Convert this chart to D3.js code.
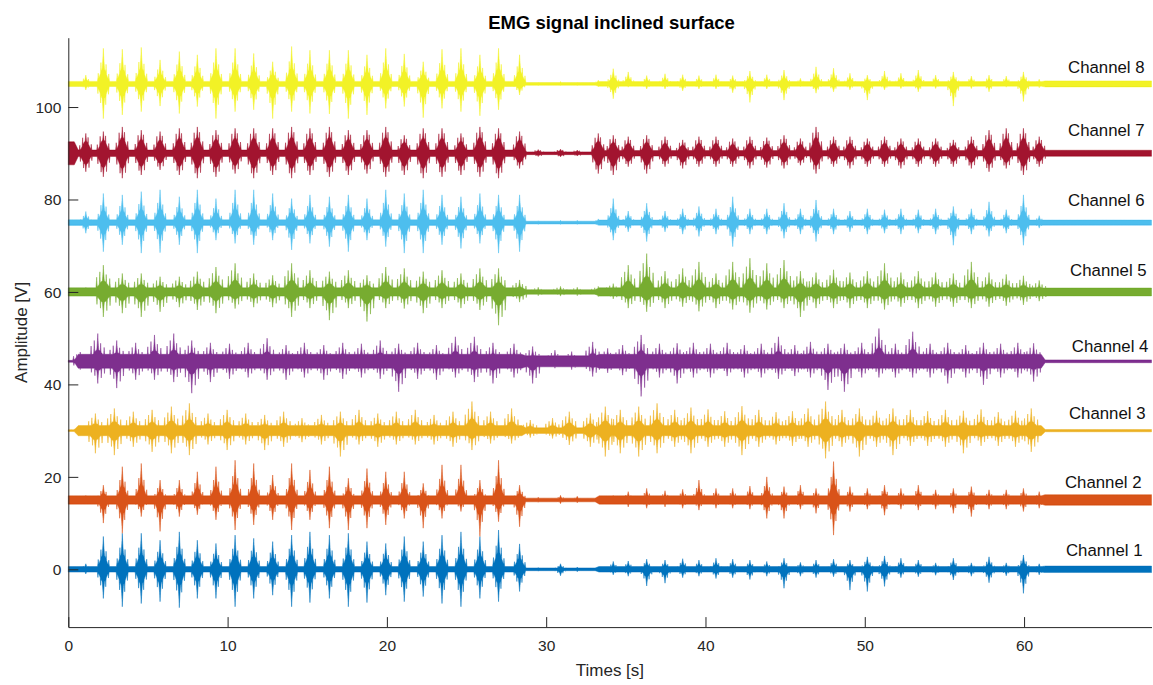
<!DOCTYPE html>
<html>
<head>
<meta charset="utf-8">
<script src="https://cdn.jsdelivr.net/npm/d3@7"></script>
<style>
  html, body { margin: 0; padding: 0; background: #fff; }
  svg { display: block; font-family: "Liberation Sans", Arial, Helvetica, sans-serif; }
</style>
</head>
<body>
<script>
// ---- Data -----------------------------------------------------------------
// Step (burst) instants in seconds: stance phase 1, transition, stance phase 2
const stepTimes = [1.1, 2.2, 3.39, 4.58, 5.76, 6.97, 8.10, 9.27, 10.47, 11.64, 12.83, 14.02,
  15.17, 16.39, 17.58, 18.75, 19.93, 21.09, 22.28, 23.46, 24.65, 25.84, 27.01, 28.33,
  29.5, 30.9, 31.95,
  33.27, 34.21, 35.15, 36.31, 37.46, 38.57, 39.59, 40.66, 41.71, 42.79, 43.85, 44.93,
  45.96, 46.94, 48.04, 49.07, 50.16, 51.24, 52.27, 53.36, 54.45, 55.56, 56.69, 57.8,
  58.88, 59.96, 60.95];

const channelNames = ["Channel 1", "Channel 2", "Channel 3", "Channel 4",
                      "Channel 5", "Channel 6", "Channel 7", "Channel 8"];
const channelOffsets = [0, 15, 30, 45, 60, 75, 90, 105];
// timing lag of each channel's bursts relative to stepTimes (s)
const channelLag = [0, 0, -0.5, -0.35, 0, 0, 0, 0];

// Burst peak amplitudes above (Up) and below (Down) each channel's offset [V]
const ch1Up = [1.2, 7.1, 7.8, 7.8, 6.3, 8.1, 6.3, 5.6, 7.4, 6.7, 6.0, 7.4, 8.1, 7.4, 7.8, 6.0, 5.6, 7.1, 6.0, 7.4, 8.1, 7.1, 8.5, 5.5,
  0.4, 1.2, 0.5,
  0.6, 1.7, 1.8, 2.2, 2.0, 2.3, 2.0, 2.4, 2.2, 2.0, 1.7, 2.4, 1.5, 2.0, 2.2, 2.0, 2.7, 2.9, 2.4, 2.0, 1.4, 2.4, 1.4, 2.7, 1.4, 3.1, 1.2];
const ch1Down = [1.0, 6.3, 8.1, 7.4, 7.0, 8.3, 6.3, 6.3, 8.1, 6.3, 5.6, 8.1, 7.2, 6.3, 8.1, 7.2, 5.6, 7.0, 5.9, 7.4, 8.1, 6.3, 7.0, 4.8,
  0.4, 1.4, 0.5,
  0.5, 1.2, 1.5, 3.6, 3.0, 1.8, 1.5, 2.0, 1.8, 2.2, 1.5, 4.1, 1.5, 1.8, 1.6, 4.5, 4.8, 3.7, 1.8, 1.6, 1.3, 2.3, 1.5, 2.9, 1.4, 5.2, 1.2];

const ch2Up = [1.0, 3.2, 7.2, 7.9, 4.3, 4.3, 6.1, 7.2, 8.6, 7.9, 5.4, 7.9, 6.5, 7.2, 4.7, 6.8, 6.1, 6.1, 3.6, 7.6, 7.6, 4.3, 8.6, 3.2,
  0.6, 1.0, 0.8,
  0.8, 1.0, 1.8, 2.5, 2.0, 2.3, 4.3, 2.5, 2.5, 3.0, 5.0, 2.9, 3.2, 2.5, 8.3, 2.9, 2.5, 3.2, 2.5, 3.2, 2.2, 2.5, 2.9, 2.2, 2.2, 2.5, 1.8];
const ch2Down = [0.8, 5.0, 7.2, 3.6, 6.8, 3.6, 3.2, 4.3, 6.5, 5.4, 4.3, 6.5, 4.3, 6.1, 6.5, 6.1, 5.4, 4.0, 6.1, 4.0, 2.5, 7.9, 4.7, 5.8,
  0.5, 0.8, 0.6,
  0.7, 0.8, 1.5, 1.8, 1.5, 1.8, 2.2, 1.8, 1.8, 2.0, 4.0, 4.0, 2.0, 2.9, 7.6, 2.5, 2.0, 3.3, 2.0, 2.2, 2.0, 2.9, 3.6, 2.0, 2.0, 2.5, 1.8];

const ch3Up = [0.5, 3.7, 4.8, 4.1, 4.5, 5.2, 5.9, 3.7, 4.5, 3.7, 3.4, 4.1, 2.7, 3.4, 4.1, 4.5, 3.7, 4.1, 4.5, 3.4, 4.1, 6.3, 4.1, 4.8,
  2.3, 2.7, 4.1,
  3.7, 5.2, 4.5, 5.2, 5.9, 4.5, 5.0, 4.6, 4.2, 5.3, 4.5, 4.0, 4.2, 4.8, 6.3, 4.5, 4.8, 4.3, 4.8, 4.5, 4.2, 4.5, 4.3, 4.6, 4.0, 4.3, 4.8];
const ch3Down = [0.4, 4.9, 5.3, 3.5, 4.6, 4.9, 5.3, 3.0, 4.2, 3.0, 4.2, 3.5, 2.5, 3.0, 5.6, 3.0, 3.5, 3.0, 3.0, 3.0, 3.5, 4.2, 2.8, 2.8,
  1.5, 1.7, 3.1,
  3.5, 5.6, 4.9, 5.6, 4.9, 3.5, 4.9, 3.5, 3.5, 5.3, 3.5, 3.0, 3.3, 3.5, 6.0, 3.5, 5.6, 3.5, 5.3, 3.3, 3.3, 3.5, 4.9, 3.3, 3.3, 3.5, 4.6];

const ch4Up = [2.0, 6.0, 4.5, 4.0, 5.7, 6.0, 4.5, 4.0, 3.8, 4.0, 5.0, 3.5, 4.0, 3.5, 4.0, 3.8, 4.5, 3.8, 4.0, 3.5, 5.3, 5.3, 4.0, 3.8,
  3.2, 2.4, 2.1,
  4.2, 2.8, 3.5, 5.7, 3.8, 3.9, 4.0, 3.8, 4.0, 3.5, 3.8, 5.3, 3.5, 4.2, 3.8, 3.8, 4.0, 7.1, 3.8, 6.4, 3.8, 4.0, 3.5, 4.0, 3.8, 4.0, 3.9];
const ch4Down = [1.8, 4.8, 5.8, 4.0, 4.0, 4.5, 6.9, 4.5, 3.8, 3.5, 4.0, 4.0, 3.5, 4.0, 3.8, 3.5, 3.8, 6.6, 3.8, 4.0, 3.5, 4.5, 4.8, 3.5,
  4.8, 1.5, 1.8,
  3.3, 2.5, 3.0, 7.6, 3.5, 4.8, 3.5, 3.5, 3.2, 3.5, 3.5, 3.8, 3.2, 3.5, 6.2, 6.6, 3.5, 3.5, 3.5, 3.5, 3.5, 4.8, 3.5, 5.1, 3.5, 3.5, 4.4];

const ch5Up = [1.0, 5.8, 4.0, 4.0, 3.3, 3.3, 4.4, 5.4, 6.2, 4.0, 3.6, 6.2, 4.7, 4.4, 4.7, 3.6, 5.4, 5.1, 4.4, 4.7, 4.0, 5.1, 5.1, 2.6,
  1.0, 1.2, 1.0,
  1.2, 1.8, 5.8, 8.3, 4.5, 5.1, 6.5, 4.0, 6.5, 7.3, 6.2, 6.9, 4.5, 4.2, 4.8, 4.2, 4.5, 6.2, 4.2, 4.5, 4.2, 4.0, 6.5, 4.2, 3.8, 3.5, 2.5];
const ch5Down = [0.8, 5.4, 4.6, 5.4, 4.3, 3.3, 3.9, 4.6, 3.6, 3.3, 3.3, 5.4, 3.5, 6.1, 3.5, 6.4, 3.5, 3.6, 4.6, 3.5, 3.5, 3.9, 7.2, 2.2,
  0.8, 0.9, 0.8,
  1.0, 1.5, 3.5, 4.3, 3.5, 3.2, 4.2, 3.5, 3.8, 4.5, 3.8, 3.5, 5.4, 3.5, 3.5, 3.5, 3.5, 3.8, 3.2, 3.5, 3.2, 3.2, 3.5, 3.2, 3.0, 2.8, 2.0];

const ch6Up = [2.4, 6.3, 6.0, 6.7, 7.1, 5.6, 7.1, 5.2, 7.1, 7.1, 6.3, 5.2, 6.0, 5.6, 6.0, 5.2, 7.1, 6.3, 7.1, 6.0, 5.6, 6.3, 6.0, 6.0,
  0.4, 0.5, 0.5,
  0.8, 5.2, 2.5, 4.2, 2.5, 3.0, 3.5, 3.0, 5.6, 3.0, 3.0, 4.2, 3.0, 4.9, 3.0, 2.5, 3.0, 2.8, 3.0, 2.8, 3.0, 3.5, 3.0, 4.5, 2.8, 6.0, 1.5];
const ch6Down = [2.3, 6.3, 4.8, 6.6, 6.5, 4.8, 6.6, 3.8, 4.5, 4.8, 3.8, 5.9, 4.5, 5.2, 6.3, 3.8, 5.2, 6.6, 6.6, 4.8, 5.6, 4.5, 6.6, 6.3,
  0.4, 0.4, 0.4,
  0.6, 3.8, 2.0, 4.1, 2.0, 2.5, 3.0, 2.5, 5.2, 2.5, 2.5, 3.4, 2.5, 4.1, 2.5, 2.0, 2.5, 2.3, 2.5, 2.3, 2.5, 4.9, 2.5, 3.0, 2.3, 4.9, 1.2];

const ch7Up = [4.3, 4.7, 5.7, 5.0, 4.7, 5.4, 5.7, 5.0, 5.4, 5.4, 5.4, 5.7, 5.4, 5.7, 5.0, 5.0, 5.7, 3.9, 5.4, 5.4, 4.3, 5.7, 5.4, 4.7,
  0.8, 0.9, 0.7,
  4.3, 3.9, 3.6, 3.9, 3.6, 2.9, 3.6, 3.6, 3.2, 3.6, 3.4, 3.9, 3.2, 5.7, 3.6, 3.6, 3.2, 3.6, 3.2, 3.2, 3.2, 2.9, 3.6, 5.0, 5.4, 5.4, 3.6];
const ch7Down = [4.0, 5.1, 5.4, 4.7, 3.6, 4.7, 5.4, 5.1, 4.4, 5.4, 4.7, 5.4, 4.7, 5.1, 4.7, 4.4, 5.1, 4.7, 5.4, 5.1, 4.7, 5.1, 5.4, 3.3,
  0.7, 0.8, 0.6,
  4.4, 4.7, 2.9, 4.4, 2.9, 3.3, 2.9, 2.9, 2.9, 3.3, 3.1, 3.3, 2.6, 4.4, 2.9, 3.3, 2.9, 2.9, 3.3, 2.9, 2.9, 2.9, 3.3, 4.0, 3.3, 4.7, 2.9];

const ch8Up = [1.9, 7.7, 7.5, 7.9, 5.2, 7.0, 6.3, 7.7, 7.7, 6.6, 4.8, 8.1, 7.3, 7.3, 7.3, 6.3, 7.7, 6.5, 4.8, 7.5, 7.7, 6.3, 7.7, 6.3,
  0.4, 0.5, 0.4,
  0.8, 3.3, 2.6, 1.8, 2.2, 2.0, 1.8, 2.0, 1.8, 2.8, 2.0, 3.0, 1.2, 3.7, 3.4, 2.3, 1.9, 2.8, 2.3, 3.0, 1.9, 2.6, 1.7, 1.9, 1.7, 2.6, 1.0];
const ch8Down = [1.3, 7.5, 6.7, 6.0, 4.8, 6.4, 4.9, 7.5, 6.0, 5.6, 7.5, 6.0, 6.4, 6.5, 7.5, 6.7, 5.3, 4.9, 7.3, 5.3, 6.0, 6.9, 5.6, 2.4,
  0.4, 0.4, 0.4,
  0.6, 3.2, 0.7, 1.1, 1.1, 1.5, 1.1, 1.1, 1.9, 4.0, 1.1, 3.5, 0.6, 2.0, 1.7, 1.3, 3.5, 1.3, 1.0, 1.7, 1.0, 4.8, 1.0, 1.7, 0.7, 3.8, 0.8];

// Background (inter-burst) activity level of each channel, per recording segment
const noiseBreaks = [0.5, 28.6, 33.2, 61.2];
const noiseLevels = [
  [0.6, 0.6, 0.3, 0.6, 0.7],
  [0.9, 0.9, 0.4, 0.9, 1.15],
  [0.2, 1.1, 0.6, 1.1, 0.25],
  [0.2, 1.5, 1.2, 1.5, 0.3],
  [0.9, 0.9, 0.5, 0.9, 0.85],
  [0.6, 0.6, 0.3, 0.55, 0.55],
  [2.5, 0.7, 0.3, 0.6, 0.65],
  [0.55, 0.55, 0.3, 0.5, 0.65]
];

const xTicks = [0, 10, 20, 30, 40, 50, 60];
const yTicks = [0, 20, 40, 60, 80, 100];

// ---- Layout & style -------------------------------------------------------
const W = 1153, H = 685;
const colors = ["#0072BD", "#D95319", "#EDB120", "#7E2F8E", "#77AC30", "#4DBEEE", "#A2142F", "#F2F226"];
const ups = [ch1Up, ch2Up, ch3Up, ch4Up, ch5Up, ch6Up, ch7Up, ch8Up];
const downs = [ch1Down, ch2Down, ch3Down, ch4Down, ch5Down, ch6Down, ch7Down, ch8Down];

// burst envelope templates (seconds)
const shapes = {
  clean: { spike: 0.09, body: 0.45, width: 0.28, subs: [[-0.15, 0.6], [0.17, 0.55], [-0.32, 0.3], [0.34, 0.28]], subW: 0.04 },
  broad: { spike: 0.09, body: 0.62, width: 0.3, subs: [[-0.2, 0.78], [0.14, 0.8], [0.34, 0.45], [-0.38, 0.4]], subW: 0.04 },
  busy:  { spike: 0.07, body: 0.42, width: 0.42, subs: [[-0.42, 0.55], [-0.22, 0.75], [0.18, 0.65], [0.4, 0.5]], subW: 0.04 }
};
const channelShape = ["clean", "clean", "busy", "busy", "busy", "clean", "broad", "clean"];
// label anchor (x in s, y in V)
const labelPos = [[62.63, 4.2], [62.57, 18.9], [62.82, 33.7], [63.0, 48.2],
                  [62.89, 64.8], [62.76, 79.9], [62.76, 95.0], [62.76, 108.7]];

const svg = d3.select("body").append("svg").attr("width", W).attr("height", H);

const x = d3.scaleLinear().domain([0, 68]).range([68.3, 1151.5]);
const y = d3.scaleLinear().domain([-12.5, 115]).range([627.1, 37.7]);

function profile(u, s, flip) {
  const v = flip ? -u : u;
  let f = Math.exp(-Math.abs(v) / s.spike);
  f = Math.max(f, s.body * Math.exp(-(v / s.width) * (v / s.width)));
  for (const [o, h] of s.subs) f = Math.max(f, h * Math.exp(-Math.abs(v - o) / s.subW));
  return f;
}

function noiseAt(c, t) {
  const lv = noiseLevels[c];
  const ramp = 0.25;
  let v = lv[0];
  for (let i = 0; i < noiseBreaks.length; i++) {
    const b = noiseBreaks[i];
    const k = Math.min(1, Math.max(0, (t - (b - ramp / 2)) / ramp));
    v = v + (lv[i + 1] - lv[i]) * k;
  }
  return v;
}

const plot = svg.append("g");

for (let c = 0; c < 8; c++) {
  const s = shapes[channelShape[c]];
  const centers = stepTimes.map(t => t + channelLag[c]);
  const extra = [];
  centers.forEach(t => { extra.push(t); s.subs.forEach(([o]) => { extra.push(t + o, t - o); }); });
  const ts = d3.range(0, 68.0001, 0.01).concat(extra.filter(t => t >= 0 && t <= 68));
  ts.sort((a, b) => a - b);
  const pts = ts.map(t => {
    let hi = noiseAt(c, t), lo = hi;
    for (let k = 0; k < centers.length; k++) {
      const u = t - centers[k];
      if (u < -1 || u > 1) continue;
      hi = Math.max(hi, ups[c][k] * profile(u, s, false));
      lo = Math.max(lo, downs[c][k] * profile(u, s, true));
    }
    return { t, hi, lo };
  });
  const base = channelOffsets[c];
  const area = d3.area()
    .x(d => x(d.t))
    .y0(d => y(base - d.lo))
    .y1(d => y(base + d.hi));
  plot.append("path")
    .datum(pts)
    .attr("d", area)
    .attr("fill", colors[c])
    .attr("stroke", colors[c])
    .attr("stroke-width", 0.5)
    .attr("stroke-linejoin", "round");
}

// ---- Axes -----------------------------------------------------------------
const axisColor = "#262626";
const gx = svg.append("g")
  .attr("transform", `translate(0,${y(-12.5)})`)
  .call(d3.axisBottom(x).tickValues(xTicks).tickSize(-10).tickSizeOuter(0).tickFormat(d3.format("d")));
gx.selectAll("text").attr("y", 24).attr("dy", 0);

const gy = svg.append("g")
  .attr("transform", `translate(${x(0)},0)`)
  .call(d3.axisLeft(y).tickValues(yTicks).tickSize(-10).tickSizeOuter(0).tickFormat(d3.format("d")));
gy.selectAll("text").attr("x", -7).attr("dy", "0.35em");

[gx, gy].forEach(g => {
  g.select(".domain").attr("stroke", axisColor).attr("stroke-width", 1);
  g.selectAll(".tick line").attr("stroke", axisColor).attr("stroke-width", 1);
  g.selectAll(".tick text").attr("fill", axisColor).style("font-size", "15.5px")
    .style("font-family", "'Liberation Sans', Arial, sans-serif");
});

// ---- Channel labels -------------------------------------------------------
svg.append("g").selectAll("text")
  .data(channelNames)
  .join("text")
  .attr("x", (d, i) => x(labelPos[i][0]))
  .attr("y", (d, i) => y(labelPos[i][1]))
  .attr("dy", "0.35em")
  .attr("fill", "#111")
  .style("font-size", "16.8px")
  .text(d => d);

// ---- Titles ---------------------------------------------------------------
svg.append("text")
  .attr("x", 611.5).attr("y", 29.3)
  .attr("text-anchor", "middle")
  .attr("fill", "#000")
  .style("font-size", "18.5px").style("font-weight", "bold")
  .text("EMG signal inclined surface");

svg.append("text")
  .attr("x", x(34)).attr("y", 676)
  .attr("text-anchor", "middle")
  .attr("fill", axisColor)
  .style("font-size", "17px")
  .text("Times [s]");

svg.append("text")
  .attr("transform", `translate(27,${(y(-12.5) + y(115)) / 2}) rotate(-90)`)
  .attr("text-anchor", "middle")
  .attr("fill", axisColor)
  .style("font-size", "17px")
  .text("Amplitude [V]");
</script>
</body>
</html>
